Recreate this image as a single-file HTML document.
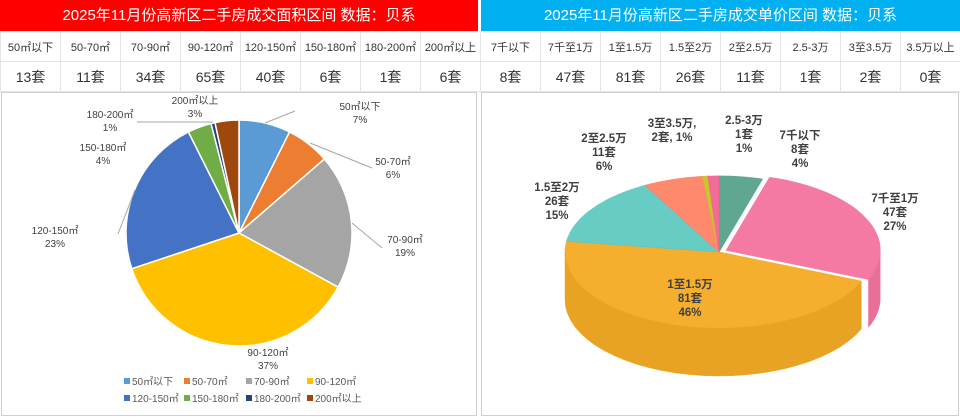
<!DOCTYPE html>
<html><head><meta charset="utf-8">
<style>
body{margin:0;width:960px;height:419px;background:#fff;font-family:"Liberation Sans","Noto Sans CJK SC",sans-serif;overflow:hidden;position:relative}
.title{position:absolute;top:0;height:31px;line-height:31px;color:#fff;font-size:15px;text-align:center}
table{position:absolute;top:31px;border-collapse:collapse;table-layout:fixed}
td{width:59px;height:29px;border:1px solid #e4e4e4;text-align:center;color:#333;padding:0}
.r1 td{font-size:11px}.r2 td{font-size:14px}
.panel{position:absolute;top:92px;height:324px;border:1px solid #d0d0d0;box-sizing:border-box}
svg{position:absolute;left:0;top:0}
</style></head><body>
<div class="title" style="left:0;width:478px;background:#ff0000">2025年11月份高新区二手房成交面积区间 数据：贝系</div>
<div class="title" style="left:481px;width:479px;background:#00b0f0">2025年11月份高新区二手房成交单价区间 数据：贝系</div>
<table style="left:0;width:480px">
<tr class="r1"><td>50㎡以下</td><td>50-70㎡</td><td>70-90㎡</td><td>90-120㎡</td><td>120-150㎡</td><td>150-180㎡</td><td>180-200㎡</td><td>200㎡以上</td></tr>
<tr class="r2"><td>13套</td><td>11套</td><td>34套</td><td>65套</td><td>40套</td><td>6套</td><td>1套</td><td>6套</td></tr></table>
<table style="left:480px;width:480px">
<tr class="r1"><td>7千以下</td><td>7千至1万</td><td>1至1.5万</td><td>1.5至2万</td><td>2至2.5万</td><td>2.5-3万</td><td>3至3.5万</td><td>3.5万以上</td></tr>
<tr class="r2"><td>8套</td><td>47套</td><td>81套</td><td>26套</td><td>11套</td><td>1套</td><td>2套</td><td>0套</td></tr></table>
<div class="panel" style="left:1px;width:476px"></div>
<div class="panel" style="left:481px;width:478px"></div>
<svg id="s" width="960" height="419"></svg>
<script>
const areaCats=["50㎡以下","50-70㎡","70-90㎡","90-120㎡","120-150㎡","150-180㎡","180-200㎡","200㎡以上"];
const areaVals=[13,11,34,65,40,6,1,6];
const areaPct=[7,6,19,37,23,4,1,3];
const priceCats=["7千以下","7千至1万","1至1.5万","1.5至2万","2至2.5万","2.5-3万","3至3.5万","3.5万以上"];
const priceVals=[8,47,81,26,11,1,2,0];
const pricePct=[4,27,46,15,6,1,1,0];
const areaColors=["#5b9bd5","#ed7d31","#a5a5a5","#ffc000","#4472c4","#70ad47","#264478","#9e480e"];
const priceColors=["#52a088","#f56f9c","#f5a81c","#5bc8c0","#ff8060","#c8c020","#f06090","#999"];
const S=document.getElementById('s');const NS="http://www.w3.org/2000/svg";
function mk(t,a,txt){const e=document.createElementNS(NS,t);for(const k in a)e.setAttribute(k,a[k]);if(txt!=null)e.textContent=txt;S.appendChild(e);return e;}
function lines(x,y,arr,opt){arr.forEach((s,i)=>{const t=mk('text',Object.assign({x:x,y:y+i*opt.lh,'text-anchor':'middle'},opt.a),s);});}
// left pie
const cx=239,cy=233,r=113;const tot=areaVals.reduce((a,b)=>a+b,0);
let a0=0;
areaVals.forEach((v,i)=>{const a1=a0+v/tot*2*Math.PI;
 const x0=cx+r*Math.sin(a0),y0=cy-r*Math.cos(a0),x1=cx+r*Math.sin(a1),y1=cy-r*Math.cos(a1);
 const p=mk('path',{d:`M${cx},${cy}L${x0},${y0}A${r},${r} 0 ${a1-a0>Math.PI?1:0} 1 ${x1},${y1}Z`,fill:areaColors[i],stroke:'#fff','stroke-width':1.5});
 
 a0=a1;});
const la={'font-size':10,fill:'#404040'};
const areaLab=[[360,110],[393,165],[405,243],[268,356],[55,234],[103,151],[110,118],[195,104]];
areaVals.forEach((v,i)=>{const [x,y]=areaLab[i];lines(x,y,[areaCats[i],areaPct[i]+'%'],{lh:13,a:la});});
mk('path',{d:'M265,123 L295,111 M310,143 L372,168 M352,223 L382,248 M118,234 L135,190 M137,122 L213,122',stroke:'#a6a6a6',fill:'none'});
areaCats.forEach((c,i)=>{const x=[124,184,246,307][i%4],y=385+Math.floor(i/4)*17;
 const g=mk('rect',{x:x,y:y-7,width:6,height:6,fill:areaColors[i]});
 const t=mk('text',{x:x+8,y:y,'font-size':10,fill:'#595959'},c);});
// right 3D pie
const X=719,Y=252,RX=154,RY=76,D=48;const ptot=priceVals.reduce((a,b)=>a+b,0);
const pt=(a,ox,oy,dy)=>[X+ox+RX*Math.sin(a),Y+oy+dy-RY*Math.cos(a)];
let b0=0;const sl=[];
priceVals.forEach((v,i)=>{const b1=b0+v/ptot*2*Math.PI;const m=(b0+b1)/2;const ex=i==1?8:0;
 sl.push({b0,b1,ox:ex*Math.sin(m),oy:ex*Math.cos(m)*-0.5,c:priceColors[i]});b0=b1;});
function arc(s,e,ox,oy,dy,rev){let d='';const n=30;for(let k=0;k<=n;k++){const a=rev?e-(e-s)*k/n:s+(e-s)*k/n;const [x,y]=pt(a,ox,oy,dy);d+=(k?'L':'M')+x.toFixed(1)+','+y.toFixed(1);}return d;}
sl.forEach(o=>{const s=Math.max(o.b0,Math.PI/2),e=Math.min(o.b1,1.5*Math.PI);if(e<=s)return;
 const d=arc(s,e,o.ox,o.oy,0)+arc(s,e,o.ox,o.oy,D,true).replace('M','L')+'Z';
 const p=mk('path',{d:d,fill:o.c,stroke:o.c,'stroke-width':0.5,opacity:0.95});
 mk('path',{d:d,fill:'#000',opacity:0.05});});
sl.forEach(o=>{if(o.b1-o.b0<=0)return;const [x0,y0]=[X+o.ox,Y+o.oy];
 const d=`M${x0},${y0}`+arc(o.b0,o.b1,o.ox,o.oy,0).replace('M','L')+'Z';
 const p=mk('path',{d:d,fill:o.c,stroke:o.c,'stroke-width':0.8,opacity:0.92});});
const lb={'font-size':11.5,'font-weight':'bold',fill:'#404040'};
const pl=[[800,139],[895,202],[690,288],[557,191],[604,142],[744,124],[672,127]];
[0,1,2,3,4,5].forEach(i=>{const [x,y]=pl[i];lines(x,y,[priceCats[i],priceVals[i]+'套',pricePct[i]+'%'],{lh:14,a:lb});});
lines(pl[6][0],pl[6][1],['3至3.5万,',priceVals[6]+'套, '+pricePct[6]+'%'],{lh:14,a:lb});
</script></body></html>
